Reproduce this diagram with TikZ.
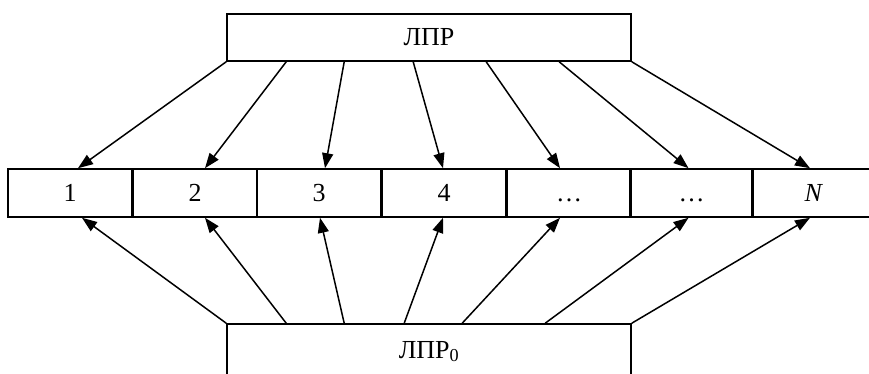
\documentclass[tikz,border=0pt]{standalone}
\usepackage{fontspec}
\setmainfont{Liberation Serif}
\usetikzlibrary{arrows.meta,calc}
\begin{document}
\begin{tikzpicture}[x=1pt,y=-1pt,
  box/.style={draw,line width=1.6pt,minimum width=404pt,inner sep=0pt,font=\fontsize{26}{30}\selectfont},
  cell/.style={draw,line width=1.6pt,minimum width=124pt,minimum height=48pt,inner sep=0pt,font=\fontsize{26}{30}\selectfont},
  arr/.style={line width=1.5pt,-{Triangle[length=15pt,width=11pt]}}]
\useasboundingbox (0,0) rectangle (869,374);
\clip (0,0) rectangle (869,374);
% decision makers
\node[box,minimum height=47pt] (lpr) at (429,37.5) {ЛПР};
\node[box,minimum height=52pt,text depth=0pt] (lpr0) at (429,350) {\raisebox{1pt}{ЛПР\textsubscript{0}}};
% row of alternatives
\node[cell] (c1) at (70,193) {1};
\node[cell] (c2) at (195,193) {2};
\node[cell] (c3) at (319,193) {3};
\node[cell] (c4) at (444,193) {4};
\node[cell] (c5) at (569,193) {\vphantom{1}…};
\node[cell] (c6) at (691.5,193) {\vphantom{1}…};
\node[cell] (c7) at (814,193) {\textit{N}};
% arrows from the upper box
\draw[arr] (lpr.south west) -- ($(c1.north)+(8,0)$);
\draw[arr] ($(lpr.south west)+(60,0)$) -- ($(c2.north)+(10,0)$);
\draw[arr] ($(lpr.south west)+(118,0)$) -- ($(c3.north)+(6,0)$);
\draw[arr] ($(lpr.south west)+(187,0)$) -- ($(c4.north)+(-1,0)$);
\draw[arr] ($(lpr.south west)+(260,0)$) -- ($(c5.north)+(-9,0)$);
\draw[arr] ($(lpr.south west)+(333,0)$) -- ($(c6.north)+(-3,0)$);
\draw[arr] (lpr.south east) -- ($(c7.north)+(-4,0)$);
% arrows from the lower box
\draw[arr] (lpr0.north west) -- ($(c1.south)+(12,0)$);
\draw[arr] ($(lpr0.north west)+(60,0)$) -- ($(c2.south)+(10,0)$);
\draw[arr] ($(lpr0.north west)+(118,0)$) -- ($(c3.south)+(1,0)$);
\draw[arr] ($(lpr0.north west)+(178,0)$) -- ($(c4.south)+(-1,0)$);
\draw[arr] ($(lpr0.north west)+(236,0)$) -- ($(c5.south)+(-9,0)$);
\draw[arr] ($(lpr0.north west)+(319,0)$) -- ($(c6.south)+(-3,0)$);
\draw[arr] (lpr0.north east) -- ($(c7.south)+(-4,0)$);
\end{tikzpicture}
\end{document}
